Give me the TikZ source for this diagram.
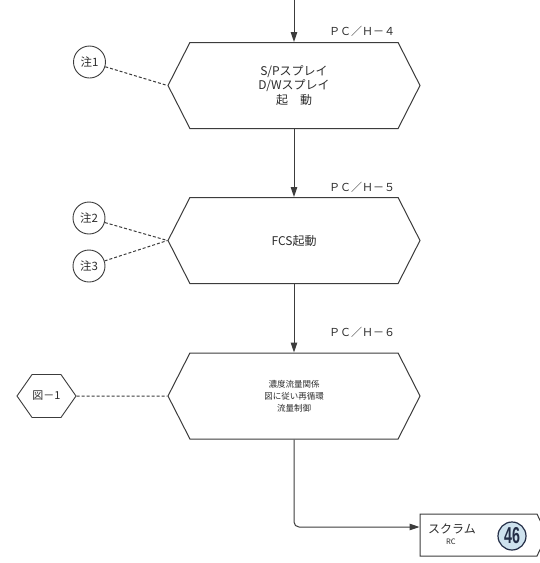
\documentclass[tikz,border=0pt]{standalone}
\usepackage{fontspec}
\setmainfont{Noto Sans CJK JP}
\newfontfamily\badgefont{Liberation Sans}
\usepackage{graphicx}
\usepackage{xcolor}
\usetikzlibrary{shapes.symbols}
\usetikzlibrary{arrows.meta}

\definecolor{linegray}{RGB}{60,60,60}
\definecolor{textgray}{RGB}{45,45,45}
\definecolor{badgefill}{RGB}{206,226,238}
\definecolor{badgeline}{RGB}{35,45,70}

\tikzset{
    flowline/.style={draw=linegray, line width=1pt},
    flowarrow/.style={flowline, -{Triangle[length=10pt,width=6.5pt]}},
    noteline/.style={draw=linegray, line width=1pt, densely dashed},
    stepbox/.style={signal, signal to=east and west, signal pointer angle=126,
        draw=linegray, line width=1pt, minimum width=252pt, minimum height=86pt,
        inner sep=0pt, align=center, text=textgray, font=\fontsize{12}{14.5}\selectfont},
    notecircle/.style={circle, draw=linegray, line width=0.9pt, minimum size=32pt,
        inner sep=0pt, text=textgray, font=\fontsize{11.5}{12}\selectfont},
    pagelabel/.style={text=textgray, font=\fontsize{11}{12}\selectfont},
}

\begin{document}
\begin{tikzpicture}[x=1pt, y=-1pt]
    \useasboundingbox[fill=white] (0,0) rectangle (540,563);

    % steps
    \coordinate (entry) at (294,0);
    \node[stepbox] (spray) at (294,85.5) {S/Pスプレイ\\D/Wスプレイ\\起　動};
    \node[stepbox] (fcs) at (294,240.5) {FCS起動};
    \node[stepbox, font=\fontsize{8.5}{12}\selectfont] (recirc) at (294,396)
        {濃度流量関係\\図に従い再循環\\流量制御};

    \node[pagelabel] (pc4) at (362,31) {ＰＣ／Ｈ－４};
    \node[pagelabel] (pc5) at (362,187) {ＰＣ／Ｈ－５};
    \node[pagelabel] (pc6) at (362,332) {ＰＣ／Ｈ－６};

    % notes
    \node[notecircle] (note1) at (89.5,62) {注1};
    \node[notecircle] (note2) at (89,218) {注2};
    \node[notecircle] (note3) at (89,266) {注3};
    \node[signal, signal to=east and west, signal pointer angle=110, draw=linegray,
        line width=0.9pt, minimum width=59pt, minimum height=43pt, inner sep=0pt,
        text=textgray, font=\fontsize{11}{12}\selectfont] (fig1) at (46.5,396) {図－1};

    % exit
    \node[signal, signal to=east, signal from=nowhere, signal pointer angle=129,
        draw=linegray, line width=1pt, minimum width=127pt, minimum height=42pt,
        inner sep=0pt] (scram) at (478.5,535) {};
    \node[text=textgray, font=\fontsize{12}{12}\selectfont] (scramtxt) at (452,529) {スクラム};
    \node[text=textgray, font=\fontsize{7.5}{8}\selectfont] (rctxt) at (451,542) {RC};
    \node[circle, draw=badgeline, fill=badgefill, line width=1.2pt, minimum size=28pt,
        inner sep=0pt, text=badgeline, font=\fontsize{23}{23}\badgefont\bfseries] (sheet46) at (512,536)
        {\scalebox{0.62}[1]{46}};

    \draw[flowarrow] (entry) -- (spray.north);
    \draw[flowarrow] (spray.south) -- (fcs.north);
    \draw[flowarrow] (fcs.south) -- (recirc.north);
    \draw[flowarrow, rounded corners=5pt] (recirc.south) |- ([yshift=8pt]scram.west);

    \draw[noteline] (note1) -- (spray.west);
    \draw[noteline] (note2) -- (fcs.west);
    \draw[noteline] (note3) -- (fcs.west);
    \draw[noteline] (fig1) -- (recirc.west);
\end{tikzpicture}
\end{document}
